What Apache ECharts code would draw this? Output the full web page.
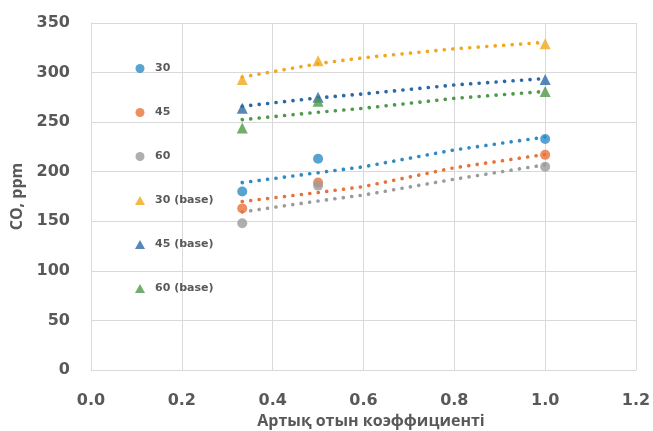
<!DOCTYPE html>
<html>
<head>
<meta charset="utf-8">
<script src="https://cdn.jsdelivr.net/npm/echarts@6/dist/echarts.min.js"></script>
<style>html,body{margin:0;padding:0;background:#fff;}#c{width:653px;height:431px;}</style>
</head>
<body>
<div id="c"></div>
<script>
// Data
var xValues = [0.333, 0.5, 1.0];
var co30 = [180, 213, 233];
var co45 = [163, 189, 217];
var co60 = [148, 186, 205];
var co30base = [293, 312, 329];
var co45base = [264, 275, 293];
var co60base = [244, 271, 281];

// Trendlines at these x positions
var trendX = [0.333, 0.5, 0.6, 0.8, 1.0];
var trend30 = [189, 199, 205, 222, 235];
var trend45 = [170, 179, 185, 204, 217.5];
var trend60 = [159.5, 170.5, 176.5, 192.5, 207];
var trend30base = [295.5, 309, 315, 324, 330.5];
var trend45base = [266, 274.5, 278.5, 287.5, 294];
var trend60base = [252.5, 260, 264, 274, 281];

var seriesNames = ['30', '45', '60', '30 (base)', '45 (base)', '60 (base)'];
var yTicks = [0, 50, 100, 150, 200, 250, 300, 350];
var xTicks = [0.0, 0.2, 0.4, 0.6, 0.8, 1.0, 1.2];

var colors = ['#2E8CC3', '#E8733A', '#9B9B9B', '#F2A71E', '#2A69A5', '#4F994A'];
var symbols = ['circle', 'circle', 'circle', 'triangle', 'triangle', 'triangle'];
var pointSets = [co30, co45, co60, co30base, co45base, co60base];
var trendSets = [trend30, trend45, trend60, trend30base, trend45base, trend60base];

function pairs(xs, ys) { return xs.map(function (x, i) { return [x, ys[i]]; }); }

var series = [];
trendSets.forEach(function (t, i) {
  series.push({
    type: 'line', name: seriesNames[i] + ' trend', data: pairs(trendX, t),
    smooth: false, showSymbol: false, symbol: 'none', silent: true, z: 2,
    lineStyle: { color: colors[i], width: 3.6, type: [0.1, 8.4], cap: 'round' }
  });
});
pointSets.forEach(function (p, i) {
  series.push({
    type: 'scatter', name: seriesNames[i], data: pairs(xValues, p),
    symbol: symbols[i], symbolSize: symbols[i] === 'circle' ? 10 : 11,
    itemStyle: { color: colors[i] }, z: 3
  });
});

var tickFont = 'DejaVu Sans';
var chart = echarts.init(document.getElementById('c'), null, { renderer: 'canvas' });
chart.setOption({
  animation: false,
  backgroundColor: '#fff',
  grid: { left: 91, right: 17, top: 23, bottom: 61, containLabel: false, outerBoundsMode: 'none' },
  legend: {
    data: seriesNames.map(function (n, i) { return { name: n, icon: symbols[i] }; }),
    orient: 'vertical', left: 130, top: 58,
    itemWidth: 10, itemHeight: 9, itemGap: 33,
    textStyle: { color: '#595959', fontSize: 11, fontWeight: 'bold', fontFamily: tickFont, padding: [0, 0, 0, 5] }
  },
  xAxis: {
    type: 'value', min: 0, max: 1.2, interval: 0.2,
    name: 'Артық отын коэффициенті', nameLocation: 'middle', nameGap: 43,
    nameTextStyle: { color: '#595959', fontSize: 16, fontWeight: 'bold', fontFamily: 'Open Sans', padding: [0, 0, 0, 15] },
    axisLine: { show: true, lineStyle: { color: '#d9d9d9' } },
    axisTick: { show: false },
    splitLine: { show: true, lineStyle: { color: '#d9d9d9' } },
    axisLabel: {
      margin: 23, color: '#595959', fontSize: 16, fontWeight: 'bold', fontFamily: tickFont,
      formatter: function (v) { return v.toFixed(1); }
    }
  },
  yAxis: {
    type: 'value', min: 0, max: 350, interval: 50,
    name: 'CO, ppm', nameLocation: 'middle', nameGap: 58,
    nameTextStyle: { color: '#595959', fontSize: 16, fontWeight: 'bold', fontFamily: 'Open Sans' },
    axisLine: { show: true, lineStyle: { color: '#d9d9d9' } },
    axisTick: { show: false },
    splitLine: { show: true, lineStyle: { color: '#d9d9d9' } },
    axisLabel: { margin: 21, color: '#595959', fontSize: 16, fontWeight: 'bold', fontFamily: tickFont }
  },
  series: series
});
</script>
</body>
</html>
